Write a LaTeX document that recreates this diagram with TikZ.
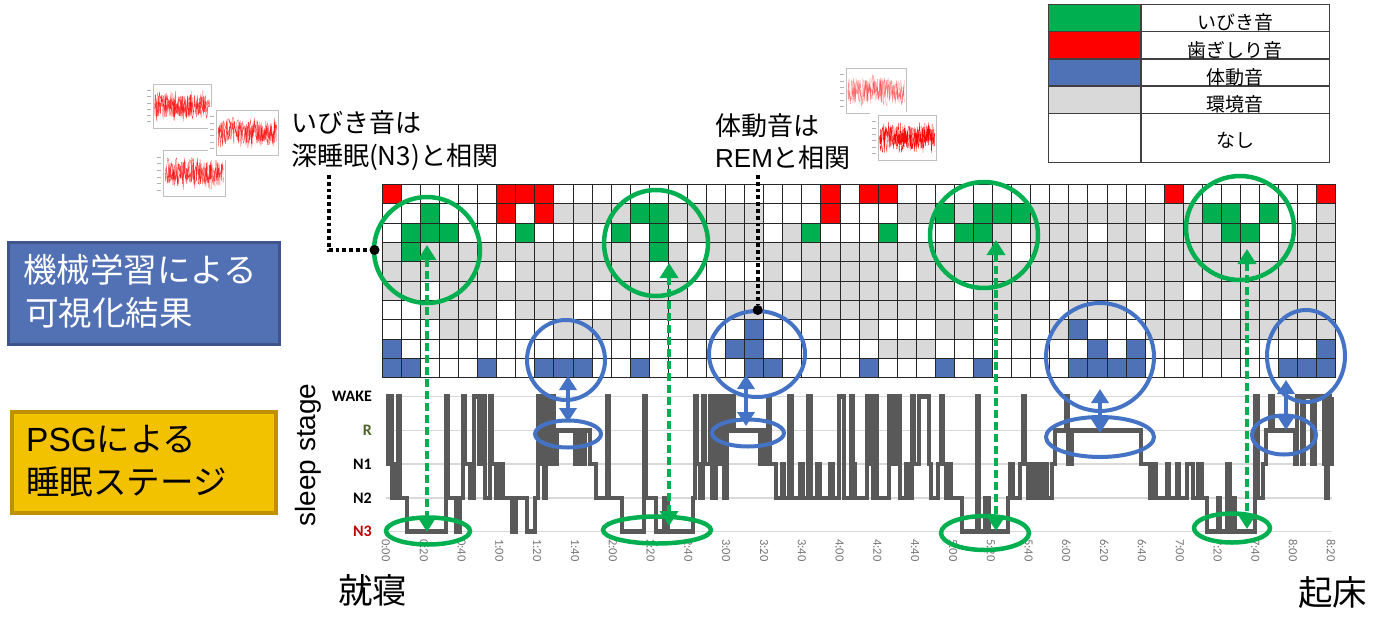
\documentclass[tikz,border=0pt]{standalone}
\usepackage{fontspec}
\setmainfont{Liberation Sans}
\newfontfamily\jpfont{Noto Sans CJK JP}
\newfontfamily\calfont{Carlito}
\usetikzlibrary{arrows.meta,shapes.geometric}
\definecolor{cgreen}{HTML}{00B050}
\definecolor{cred}{HTML}{FF0000}
\definecolor{cblue}{HTML}{4F72B6}
\definecolor{cgrey}{HTML}{D9D9D9}
\definecolor{lblue}{HTML}{4472C4}
\definecolor{hypc}{HTML}{595959}
\definecolor{boxblue}{HTML}{5271B5}
\definecolor{boxblueb}{HTML}{3F548A}
\definecolor{boxyel}{HTML}{F2C200}
\definecolor{boxyelb}{HTML}{BF9000}
\definecolor{olivec}{HTML}{4F6228}
\definecolor{darkredc}{HTML}{C00000}
\definecolor{tickc}{HTML}{767676}
\colorlet{cellr}{cred}
\colorlet{cellg}{cgreen}
\colorlet{cellb}{cblue}
\colorlet{cellx}{cgrey}
\colorlet{cellw}{white}
\newcommand\thumbplot[6]{%
  \fill[white] (#1,#2) rectangle ++(#3,#4);
  \draw[black!25, line width=0.4pt] ({#1+0.12*#3},{#2+0.06*#4}) rectangle ({#1+0.97*#3},{#2+0.9*#4});
  \foreach \q in {1,...,6} {\draw[black!30, line width=0.3pt] ({#1+0.03*#3},{#2+0.06*#4+\q*0.12*#4}) -- ({#1+0.09*#3},{#2+0.06*#4+\q*0.12*#4});}
  \pgfmathsetseed{#6}
  \draw[red, opacity=#5, line width=0.35pt] ({#1+0.14*#3},{#2+0.48*#4})
    \foreach \k in {1,...,200} { -- ({#1+0.14*#3+\k*0.81*#3/200},{#2+0.48*#4+0.22*#4*rand}) };
  \draw[red, opacity=#5, line width=0.3pt] ({#1+0.14*#3},{#2+0.48*#4})
    \foreach \k in {1,...,90} { -- ({#1+0.14*#3+\k*0.81*#3/90},{#2+0.48*#4+0.3*#4*rand}) };
}
\begin{document}
\begin{tikzpicture}[x=1pt,y=-1pt,
  gcirc/.style={ellipse, draw=cgreen, line width=4.5pt, inner sep=0pt},
  bcirc/.style={ellipse, draw=lblue, line width=4pt, inner sep=0pt},
  garr/.style={draw=cgreen, line width=3.5pt, dash pattern=on 8pt off 4pt,
     {Triangle[length=15pt,width=18pt]}-{Triangle[length=15pt,width=18pt]}},
  barr/.style={draw=lblue, line width=3.5pt,
     {Triangle[length=14pt,width=17pt]}-{Triangle[length=14pt,width=17pt]}},
  hypline/.style={draw=hypc, line width=4.5pt, line join=miter},
  gridln/.style={draw=black!85, line width=0.9pt},
  chartgl/.style={draw=cgrey, line width=1.5pt},
  leader/.style={draw=black, line width=3.8pt, dash pattern=on 3.8pt off 3pt},
  ldot/.style={circle, fill=black, minimum size=10pt, inner sep=0pt},
  txt/.style={inner sep=0pt, anchor=west},
  boxfont/.style={font=\fontsize{33.5}{40}\selectfont},
  annfont/.style={font=\fontsize{26}{30}\selectfont},
  legtxt/.style={inner sep=0pt, font=\jpfont\fontsize{19}{22}\selectfont},
  stagelbl/.style={inner sep=0pt, anchor=east, font=\calfont\bfseries\fontsize{16}{18}\selectfont},
  ticklbl/.style={inner sep=0pt, anchor=west, rotate=-90, text=tickc, font=\calfont\fontsize{12.5}{14}\selectfont},
  legln/.style={draw=black!75, line width=1.3pt}
]
\useasboundingbox (0,0) rectangle (1391,635);
\fill[white] (0,0) rectangle (1391,635);

% thumbnails
\thumbplot{155}{147}{72}{55}{0.75}{11}
\thumbplot{145}{81}{68}{52}{0.75}{12}
\thumbplot{208}{107}{72}{53}{0.75}{13}
\thumbplot{838}{65}{70}{53}{0.45}{14}
\thumbplot{870}{112}{68}{53}{0.95}{15}

% annotation texts
\node[txt, annfont] (ann1a) at (291,123) {\jpfont いびき音は};
\node[txt, annfont] (ann1b) at (291,157) {\jpfont 深睡眠(N3)と相関};
\node[txt, annfont] (ann2a) at (715,126) {\jpfont 体動音は};
\node[txt, annfont] (ann2b) at (715,158) {REM{\jpfont と相関}};

% legend
\fill[cgreen] (1048.3,4.3) rectangle (1141,31.7);
\fill[cred] (1048.3,31.7) rectangle (1141,59);
\fill[cblue] (1048.3,59) rectangle (1141,86);
\fill[cgrey] (1048.3,86) rectangle (1141,113.3);
\draw[legln] (1048.3,4.3) rectangle (1329.3,162.3);
\draw[legln] (1141,4.3) -- (1141,162.3);
\foreach \yy in {31.7,59,86,113.3} {\draw[legln] (1048.3,\yy) -- (1329.3,\yy);}
\node[legtxt] (lg1) at (1235,22.5) {いびき音};
\node[legtxt] (lg2) at (1235,50) {歯ぎしり音};
\node[legtxt] (lg3) at (1235,77) {体動音};
\node[legtxt] (lg4) at (1235,104) {環境音};
\node[legtxt] (lg5) at (1235,140) {なし};

% left boxes
\node[draw=boxblueb, fill=boxblue, line width=3pt, minimum width=271pt, minimum height=102pt, anchor=north west] (mlbox) at (6.5,240.8) {};
\node[txt, boxfont, text=white] (mlA) at (23,270) {\jpfont 機械学習による};
\node[txt, boxfont, text=white] (mlB) at (25,313) {\jpfont 可視化結果};
\node[draw=boxyelb, fill=boxyel, line width=4pt, minimum width=264pt, minimum height=101.6pt, anchor=north west] (psgbox) at (10,409.7) {};
\node[txt, boxfont] (psgA) at (26,439) {PSG{\jpfont による}};
\node[txt, boxfont] (psgB) at (26,482) {\jpfont 睡眠ステージ};

% grid cells
\foreach \row [count=\j from 0] in {
 {r,w,w,w,w,w,r,r,r,w,w,w,w,w,w,w,w,w,w,w,w,w,w,r,w,r,r,w,w,w,w,w,w,w,w,w,w,w,w,w,w,r,w,w,w,w,w,w,w,r},
 {w,w,g,w,w,w,r,w,r,x,x,x,x,g,g,x,x,x,x,x,w,w,w,r,w,w,w,x,x,g,x,g,g,g,x,x,x,x,x,x,x,x,x,g,g,w,g,w,w,x},
 {w,g,g,g,w,w,w,g,w,w,w,w,g,w,g,w,x,x,x,x,w,x,g,w,w,w,g,w,w,w,g,g,x,w,x,x,x,w,x,x,w,x,x,x,g,g,w,w,x,x},
 {x,g,x,x,x,x,x,x,x,x,x,x,x,x,g,x,w,x,x,x,x,x,x,x,x,x,x,x,x,x,x,x,x,w,x,x,x,x,x,x,x,x,x,x,x,x,w,x,x,x},
 {x,x,x,x,x,x,w,x,x,x,x,x,x,x,w,x,w,w,w,w,x,w,x,x,x,x,x,w,x,x,x,x,x,x,x,x,x,x,x,x,x,x,x,x,x,x,x,x,x,x},
 {x,x,w,x,x,x,x,x,x,x,x,w,x,x,x,x,w,x,x,x,x,x,x,x,x,x,x,x,x,x,w,x,x,x,w,x,x,x,w,x,x,x,w,x,x,x,x,x,x,x},
 {w,w,x,x,x,x,w,x,x,x,w,w,x,x,x,x,x,w,x,x,w,x,x,x,x,x,x,x,x,x,x,x,x,x,x,w,x,x,x,w,x,x,x,x,w,x,x,x,x,x},
 {w,w,w,x,x,w,w,w,w,x,x,x,x,w,w,w,x,w,w,b,w,w,w,x,w,x,w,w,w,x,x,w,w,x,w,x,b,w,w,w,x,x,x,x,x,x,x,x,x,x},
 {b,w,w,w,w,w,w,w,w,w,w,w,w,w,w,w,w,w,b,b,w,w,w,w,w,w,x,x,x,w,w,w,w,w,w,w,w,b,w,b,w,w,x,x,x,w,w,w,w,b},
 {b,b,w,w,w,b,w,w,b,b,b,w,w,b,w,w,w,w,w,b,b,w,w,w,w,b,w,w,w,b,w,b,w,w,w,w,b,b,b,b,w,w,w,w,w,w,w,b,b,b}} {
  \foreach \c [count=\i from 0] in \row {
    \fill[cell\c] ({382.3+19.07*\i},{184.3+19.34*\j}) rectangle ++(19.07,19.34);
  }
}
\foreach \i in {0,...,50} {\draw[gridln] ({382.3+19.07*\i},184.3) -- ({382.3+19.07*\i},377.7);}
\foreach \j in {0,...,10} {\draw[gridln] (382.3,{184.3+19.34*\j}) -- (1335.8,{184.3+19.34*\j});}

% chart
\foreach \lv in {0,...,4} {\draw[chartgl] (386,{396.5+33.75*\lv}) -- (1332,{396.5+33.75*\lv});}
\node[stagelbl] (sW) at (372,396.5) {WAKE};
\node[stagelbl, text=olivec] (sR) at (372,430.3) {R};
\node[stagelbl] (s1) at (372,464) {N1};
\node[stagelbl] (s2) at (372,497.8) {N2};
\node[stagelbl, text=darkredc] (s3) at (372,531.5) {N3};
\node[inner sep=0pt, anchor=base, rotate=90, font=\fontsize{28}{30}\selectfont] (slp) at (315,455) {sleep stage};
\foreach \k in {0,...,25} {
  \pgfmathtruncatemacro\hh{int(\k/3)}
  \pgfmathtruncatemacro\mm{mod(\k,3)*20}
  \node[ticklbl] (tk\k) at ({386+37.8*\k},539) {\hh:\ifnum\mm=0 00\else\mm\fi};
}
\draw[hypline] (386,396.5) \foreach \x/\c in {
388/2,390/0,392/3,394/2,396/3,398/0,400/3,407/4,
446/0,448/3,456/4,460/3,463/0,465/2,470/3,474/0,479/2,483/0,485/3,490/0,492/2,496/3,
500/2,503/3,512/4,516/3,527/4,535/3,538/0,540/2,542/0,544/3,546/0,549/2,552/0,554/2,557/1,
575/2,578/1,581/2,585/1,590/2,596/3,607/0,609/3,622/4,
644/0,646/3,656/4,664/3,668/4,693/3,
695/0,697/2,700/3,703/0,705/2,710/0,712/3,716/0,718/2,722/0,724/3,727/0,729/1,
732/0,734/1,760/2,763/1,766/2,
768/0,770/2,776/3,782/2,784/3,789/0,792/3,800/2,803/3,808/0,811/3,817/2,
820/3,830/2,833/3,839/0,844/3,851/0,853/2,855/3,867/0,869/2,871/0,873/3,875/0,877/3,
889/0,891/2,893/0,895/2,897/0,900/3,906/2,910/3,912/0,914/2,919/0,929/2,931/3,938/2,941/0,943/2,946/3,949/2,951/3,962/4,
977/0,979/4,985/3,989/4,1008/3,
1010/2,1013/3,1020/2,1023/0,1025/2,1028/3,1031/2,1034/3,1037/2,1040/3,1044/2,1047/3,1052/2,1055/1,
1066/0,1068/2,1072/1,
1141/2,1150/3,1153/2,1156/3,1167/2,1169/3,1177/2,1179/3,1187/2,1193/3,1198/2,1202/3,1207/4,
1218/3,1220/4,1227/2,1230/4,1233/3,1235/4,1255/0,1258/3,1263/2,1266/1,
1270/0,1273/1,1295/2,1297/0,1302/2,1304/0,1312/2,1315/0,1324/2,1326/3,1328/0,1330/2,1332/0} { -| (\x,{396.5+33.75*\c}) };

% circles and ellipses
\node[gcirc, minimum width=106pt, minimum height=106pt] (gc1) at (427,250) {};
\node[gcirc, minimum width=104pt, minimum height=106pt] (gc2) at (656,243) {};
\node[gcirc, minimum width=108pt, minimum height=106pt] (gc3) at (984,235) {};
\node[gcirc, minimum width=108pt, minimum height=104pt] (gc4) at (1240,228) {};
\node[bcirc, minimum width=78pt, minimum height=80pt] (bc1) at (566,360) {};
\node[bcirc, minimum width=96pt, minimum height=86pt] (bc2) at (757,354) {};
\node[bcirc, minimum width=108pt, minimum height=108pt] (bc3) at (1100,357) {};
\node[bcirc, minimum width=78pt, minimum height=92pt] (bc4) at (1306,356) {};
\node[bcirc, minimum width=66pt, minimum height=27pt] (be1) at (568,434) {};
\node[bcirc, minimum width=72pt, minimum height=27pt] (be2) at (748,433) {};
\node[bcirc, minimum width=108pt, minimum height=40pt] (be3) at (1100,437) {};
\node[bcirc, minimum width=64pt, minimum height=39pt] (be4) at (1284,435) {};
\node[gcirc, minimum width=84pt, minimum height=27pt] (ge1) at (428,531) {};
\node[gcirc, minimum width=108pt, minimum height=27pt] (ge2) at (657,530) {};
\node[gcirc, minimum width=88pt, minimum height=34pt] (ge3) at (985,533) {};
\node[gcirc, minimum width=76pt, minimum height=29pt] (ge4) at (1232,528) {};

% leaders
\node[ldot] (d1) at (374.5,250) {};
\coordinate (L1a) at (329,175);
\draw[leader] (L1a) |- (d1.west);
\node[ldot] (d2) at (757.7,310) {};
\coordinate (L2a) at (757.7,175);
\draw[leader] (L2a) -- (d2.north);

% blue arrows
\coordinate (ba1t) at (568,376); \coordinate (ba1b) at (568,422);
\coordinate (ba2t) at (746,375); \coordinate (ba2b) at (746,426);
\coordinate (ba3t) at (1100,389); \coordinate (ba3b) at (1100,433);
\coordinate (ba4t) at (1286,380); \coordinate (ba4b) at (1286,430);
\draw[barr] (ba1t) -- (ba1b);
\draw[barr] (ba2t) -- (ba2b);
\draw[barr] (ba3t) -- (ba3b);
\draw[barr] (ba4t) -- (ba4b);

% green arrows
\coordinate (ga1t) at (427,245); \coordinate (ga1b) at (427,532);
\coordinate (ga2t) at (669,263); \coordinate (ga2b) at (669,526);
\coordinate (ga3t) at (996,240); \coordinate (ga3b) at (996,531);
\coordinate (ga4t) at (1247,249); \coordinate (ga4b) at (1247,529);
\draw[garr] (ga1t) -- (ga1b);
\draw[garr] (ga2t) -- (ga2b);
\draw[garr] (ga3t) -- (ga3b);
\draw[garr] (ga4t) -- (ga4b);

% bottom labels
\node[inner sep=0pt, font=\jpfont\fontsize{34.5}{38}\selectfont] (bed) at (372.5,590) {就寝};
\node[inner sep=0pt, font=\jpfont\fontsize{34.5}{38}\selectfont] (wake) at (1332.5,593) {起床};
\end{tikzpicture}
\end{document}
